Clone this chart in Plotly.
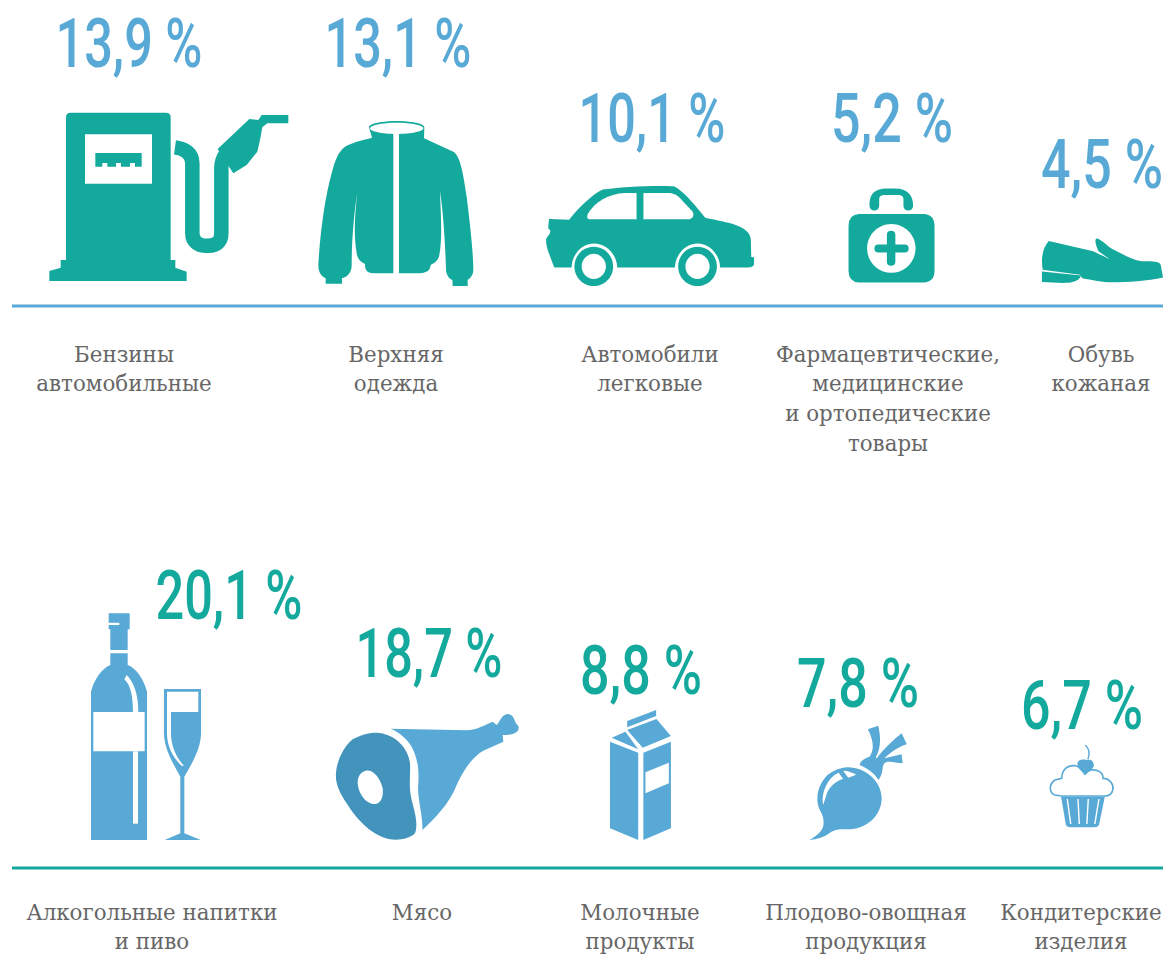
import re
import plotly.graph_objects as go

# ---------- data ----------
nonfood_labels = ["Бензины\nавтомобильные", "Верхняя\nодежда", "Автомобили\nлегковые",
                  "Фармацевтические,\nмедицинские\nи ортопедические\nтовары", "Обувь\nкожаная"]
nonfood_values = [13.9, 13.1, 10.1, 5.2, 4.5]
food_labels = ["Алкогольные напитки\nи пиво", "Мясо", "Молочные\nпродукты",
               "Плодово-овощная\nпродукция", "Кондитерские\nизделия"]
food_values = [20.1, 18.7, 8.8, 7.8, 6.7]

# ---------- layout / style ----------
TEAL = "#14a99d"
BLUE = "#58a9d6"
DARK = "#4394bd"
GREY = "#666666"
W, H = 1163, 955
nonfood_num_x = [129, 398, 652, 892, 1102]
nonfood_num_y = [50, 50, 125, 125, 171]
nonfood_lab_x = [124, 396, 650, 888, 1101]
food_num_x = [229, 429, 641, 858, 1082]
food_num_y = [602, 660, 677, 690, 712]
food_lab_x = [152, 422, 640, 866, 1081]
top_lab_y, bot_lab_y = 356, 914
LINE_H = 29.7
NUM_FONT = dict(family="Roboto", size=69, weight=500)
LAB_FONT = dict(family="DejaVu Serif", size=23, color=GREY)


def tf(path, ox, oy, sx=3.0, sy=3.0):
    """Convert a path written in crop coordinates to chart coordinates."""
    out, is_x = [], True
    for tok in re.findall(r"[A-Za-z]|-?\d+\.?\d*", path):
        if tok.isalpha():
            out.append(tok)
            is_x = True
        else:
            v = float(tok)
            out.append(f"{ox + v / sx:.2f}" if is_x else f"{oy + v / sy:.2f}")
            is_x = not is_x
    return " ".join(out)


shapes = []


def fill(path, color):
    shapes.append(dict(type="path", path=path, fillcolor=color, line=dict(width=0), layer="above"))


def stroke(path, color, width):
    shapes.append(dict(type="path", path=path, fillcolor="rgba(0,0,0,0)",
                       line=dict(color=color, width=width), layer="above"))


def ell(cx, cy, rx, ry):
    k = 0.5523
    return (f"M{cx-rx},{cy} C{cx-rx},{cy-k*ry} {cx-k*rx},{cy-ry} {cx},{cy-ry} "
            f"C{cx+k*rx},{cy-ry} {cx+rx},{cy-k*ry} {cx+rx},{cy} "
            f"C{cx+rx},{cy+k*ry} {cx+k*rx},{cy+ry} {cx},{cy+ry} "
            f"C{cx-k*rx},{cy+ry} {cx-rx},{cy+k*ry} {cx-rx},{cy} Z")


# --- icons of the upper row (crop 1: origin 30,90, scale 3)
a = dict(ox=30, oy=90)
fill(tf("M108,82 Q108,68 122,68 L408,68 Q422,68 422,82 L422,510 L436,510 L436,533 L470,545 L470,573 "
        "L58,573 L58,543 L92,533 L92,510 L108,510 Z", **a), TEAL)
fill(tf("M165,133 L366,133 L366,281 L165,281 Z", **a), "white")
fill(tf("M196,189 L335,189 L335,230 L315,230 L315,219 L300,219 L300,230 L273,230 L273,219 L258,219 L258,230 "
        "L232,230 L232,219 L217,219 L217,230 L196,230 Z", **a), TEAL)
stroke(tf("M435,172 C465,176 487,190 487,220 L487,430 C487,455 505,467 525,467 L535,467 C560,467 574,455 574,430 "
          "L574,235 C574,220 578,205 586,195", **a), TEAL, 14.5)
fill(tf("M563,177 L658,87 L685,90 L695,75 L775,75 L775,100 L712,100 L697,112 L690,150 L682,185 L650,225 L610,250 "
        "L600,235 Z", **a), TEAL)
fill(tf("M1017,112 C1017,100 1060,93 1100,93 C1140,93 1183,100 1183,112 L1182,145 L1270,185 C1290,195 1300,250 "
        "1310,320 C1320,400 1330,490 1330,540 C1330,555 1320,565 1313,570 L1313,588 L1268,588 L1267,570 "
        "C1255,565 1247,550 1248,535 C1245,450 1240,370 1230,303 C1232,370 1238,440 1228,495 C1226,510 1215,518 "
        "1202,525 C1200,540 1195,547 1170,550 L1030,550 C1010,548 1005,540 1005,522 C990,515 982,505 980,490 "
        "C970,430 975,370 982,307 C972,370 965,450 965,525 C965,545 955,560 936,565 L936,581 L887,581 L887,565 "
        "C872,558 865,545 865,525 C870,430 885,320 905,250 C915,210 925,185 945,170 C965,158 1000,150 1026,143 Z",
        **a), TEAL)
fill(tf(ell(1100, 115, 80, 17), **a), "white")
fill(tf("M1090,128 L1107,128 L1107,552 L1090,552 Z", **a), "white")

# --- crop 2: origin 530,170, scale 2.477 x 2.957
b = dict(ox=530, oy=170, sx=2.477, sy=2.957)
fill(tf("M47,145 L97,147 C115,120 150,75 180,58 C220,50 310,45 355,48 C375,55 410,105 435,142 C490,155 545,165 547,205 "
        "L548,257 L555,258 L555,278 C555,285 548,288 540,288 L471,288 C470,250 445,217 415,217 C385,217 360,250 359,288 "
        "L216,288 C215,250 190,217 158,217 C128,217 104,250 103,288 L60,288 C50,255 38,225 40,205 C42,195 52,190 50,178 "
        "L45,172 Z", **b), TEAL)
fill(tf("M264,68 L264,146 L150,146 C142,146 140,140 143,130 C160,95 195,70 235,68 Z", **b), "white")
fill(tf("M281,68 L345,68 C360,70 370,78 378,92 L402,122 C408,132 405,146 390,146 L281,146 Z", **b), "white")
for cx in (158, 415):
    fill(tf(ell(cx, 285, 48, 58) + " " + ell(cx, 285, 30, 37), **b), TEAL)
fill(tf("M841,105 C841,75 850,55 885,55 L905,55 C935,55 949,75 949,105 C949,115 944,120 937,120 C930,120 925,115 "
        "925,105 L925,85 C925,78 920,74 912,74 L878,74 C870,74 865,78 865,85 L865,105 C865,115 860,120 853,120 "
        "C846,120 841,115 841,105 Z", **b), TEAL)
fill(tf("M815,130 L975,130 Q1002,132 1002,165 L1002,298 Q1002,331 975,333 L815,333 Q789,331 789,298 L789,165 Q789,132 815,130 Z",
        **b), TEAL)
fill(tf(ell(895, 232, 60, 72), **b), "white")
fill(tf("M884,192 Q884,180 894,180 Q905,180 905,192 L905,220 L928,220 Q938,220 938,232 Q938,244 928,244 L905,244 L905,271 "
        "Q905,283 894,283 Q884,283 884,271 L884,244 L863,244 Q853,244 853,232 Q853,220 863,220 L884,220 Z", **b), TEAL)
fill(tf("M1285,210 L1395,240 C1410,248 1425,258 1436,264 L1408,240 C1403,225 1398,210 1402,203 C1410,200 1425,220 1440,232 "
        "C1470,250 1490,265 1515,270 C1540,270 1563,268 1563,285 L1568,318 C1530,328 1480,332 1440,332 C1420,332 1390,325 "
        "1368,320 L1362,310 L1270,295 C1265,260 1270,230 1285,210 Z", **b), TEAL)
fill(tf("M1268,300 L1365,312 C1360,330 1340,334 1320,334 L1268,331 Z", **b), TEAL)

# --- icons of the lower row (crop 3: origin 70,600, scale 3)
c = dict(ox=70, oy=600)
fill(tf("M116,40 L179,40 L179,88 L173,88 L173,150 L121,150 L121,88 L116,88 L116,75 L148,75 L148,68 L116,68 Z", **c), BLUE)
fill(tf("M121,160 L173,160 L173,195 C200,205 222,240 231,275 L231,720 L63,720 L63,275 C72,240 95,205 121,195 Z", **c), BLUE)
fill(tf("M70,336 L224,336 L224,454 L70,454 Z", **c), "white")
fill(tf("M163,238 L170,225 C190,245 205,280 205,336 L189,336 C189,290 182,255 163,238 Z", **c), "white")
fill(tf("M189,454 L204,454 L204,671 L189,671 Z", **c), "white")
fill(tf("M282,267 L393,267 L393,400 C393,450 360,500 343,530 L343,700 L392,720 L284,720 L331,700 L331,530 "
        "C315,500 282,450 282,400 Z", **c), BLUE)
fill(tf("M291,275 L385,275 L385,336 L303,336 L303,400 C303,440 320,475 342,497 L335,497 C310,475 291,440 291,400 Z", **c), "white")
fill(tf("M962,386 L1190,391 C1220,390 1250,372 1268,365 L1280,375 C1290,365 1295,342 1315,342 C1335,345 1330,365 1345,378 "
        "C1350,395 1335,405 1298,405 L1300,425 L1240,452 C1210,468 1180,510 1160,555 C1140,610 1090,660 1057,690 "
        "C1060,650 1040,590 1045,550 C1048,500 1040,470 1025,440 C1010,415 985,395 962,386 Z", **c), BLUE)
fill(tf("M848,418 C870,405 900,397 920,398 C970,400 1015,440 1020,490 C1022,530 1015,560 1025,600 C1035,640 1045,670 1035,700 "
        "C1020,715 990,722 960,718 C910,710 860,660 830,610 C810,580 795,550 798,520 C800,480 825,435 848,418 Z "
        "M885,513 C905,505 930,530 938,565 C942,600 925,615 908,612 C885,608 865,580 863,550 C863,530 870,518 885,513 Z",
        **c), DARK)

# --- crop 4: origin 590,700, scale 2.904 x 3
d = dict(ox=590, oy=700, sx=2.904, sy=3)
fill(tf("M58,125 L140,158 L140,420 L58,385 Z", **d), BLUE)
fill(tf("M155,158 L235,125 L235,385 L155,420 Z M161,217 L229,188 L229,250 L161,280 Z", **d), BLUE)
fill(tf("M63,113 L103,95 L140,148 Z", **d), BLUE)
fill(tf("M108,90 L193,57 L235,108 L153,143 Z", **d), BLUE)
fill(tf("M108,63 L192,30 L192,48 L108,82 Z", **d), BLUE)
fill(tf("M745,202 C800,200 848,245 847,297 C845,350 800,390 745,388 C725,386 705,390 695,400 C680,412 660,418 637,420 "
        "C655,410 675,395 678,375 C680,355 675,345 665,325 C655,295 660,260 685,230 C700,215 720,205 745,202 Z", **d), BLUE)
fill(tf("M677,315 C672,290 680,250 710,225 L722,218 L735,236 C710,245 690,265 685,290 Z", **d), "white")
fill(tf("M735,212 C750,212 762,218 773,224 L750,233 Z", **d), "white")
fill(tf("M783,195 C785,180 805,172 812,170 C825,150 825,125 807,88 L837,77 C845,110 845,145 830,172 L833,175 C850,150 880,120 "
        "905,100 L920,133 C895,140 870,160 855,175 L905,163 L908,190 C885,188 865,180 855,190 C845,205 855,215 838,240 "
        "C825,218 805,205 783,195 Z", **d), BLUE)
fill(tf("M1368,290 L1495,290 L1478,375 Q1475,382 1465,382 L1395,382 Q1385,382 1382,375 Z", **d), BLUE)
for p in ("M1386,297 L1396,372", "M1417,297 L1421,372", "M1447,297 L1443,372", "M1478,297 L1466,372"):
    stroke(tf(p, **d), "white", 1.4)
stroke(tf("M1368,288 L1350,285 C1335,280 1330,255 1350,240 L1370,235 C1370,210 1385,195 1410,197 C1420,200 1430,208 1437,222 "
          "C1445,210 1465,205 1480,215 C1490,222 1490,232 1490,235 C1510,235 1522,255 1518,270 C1515,285 1505,288 1495,288 Z",
          **d), BLUE, 1.6)
fill(tf("M1417,185 C1425,175 1440,180 1445,180 C1460,175 1468,195 1460,205 L1438,225 C1425,210 1410,200 1417,185 Z", **d), BLUE)
stroke(tf("M1438,135 C1450,145 1452,160 1446,178", **d), BLUE, 1.4)

# --- rules
shapes.append(dict(type="line", x0=12, x1=W, y0=306, y1=306, line=dict(color=BLUE, width=3)))
shapes.append(dict(type="line", x0=12, x1=W, y0=868, y1=868, line=dict(color=TEAL, width=3)))


def pct(v):
    return f"{v:.1f} %".replace(".", ",")


def label_points(labels, xs, y0):
    px, py, pt = [], [], []
    for lab, x in zip(labels, xs):
        for i, line in enumerate(lab.split("\n")):
            px.append(x)
            py.append(y0 + i * LINE_H)
            pt.append(line)
    return px, py, pt


fig = go.Figure()
fig.add_trace(go.Scatter(x=nonfood_num_x, y=nonfood_num_y, mode="text", text=[pct(v) for v in nonfood_values],
                         textposition="middle center", textfont=dict(color=BLUE, **NUM_FONT), cliponaxis=False))
fig.add_trace(go.Scatter(x=food_num_x, y=food_num_y, mode="text", text=[pct(v) for v in food_values],
                         textposition="middle center", textfont=dict(color=TEAL, **NUM_FONT), cliponaxis=False))
for labs, xs, y0 in ((nonfood_labels, nonfood_lab_x, top_lab_y), (food_labels, food_lab_x, bot_lab_y)):
    px, py, pt = label_points(labs, xs, y0)
    fig.add_trace(go.Scatter(x=px, y=py, mode="text", text=pt, textposition="middle center",
                             textfont=LAB_FONT, cliponaxis=False))

fig.update_layout(width=W, height=H, margin=dict(l=0, r=0, t=0, b=0), showlegend=False,
                  paper_bgcolor="white", plot_bgcolor="white", hovermode=False, shapes=shapes,
                  xaxis=dict(range=[0, W], visible=False, fixedrange=True),
                  yaxis=dict(range=[H, 0], visible=False, fixedrange=True))

post = """
document.body.style.margin='0';document.documentElement.style.overflow='hidden';
var gd=document.querySelectorAll('.scatterlayer .trace');
gd.forEach(function(tr,i){tr.querySelectorAll('text').forEach(function(t){
  var w=t.getComputedTextLength();
  var L=i<2?(t.textContent.length>5?147:122):w*0.93;
  t.setAttribute('textLength',L);t.setAttribute('lengthAdjust','spacingAndGlyphs');});});
"""
fig.write_html("out.html", post_script=post, config=dict(displayModeBar=False))
